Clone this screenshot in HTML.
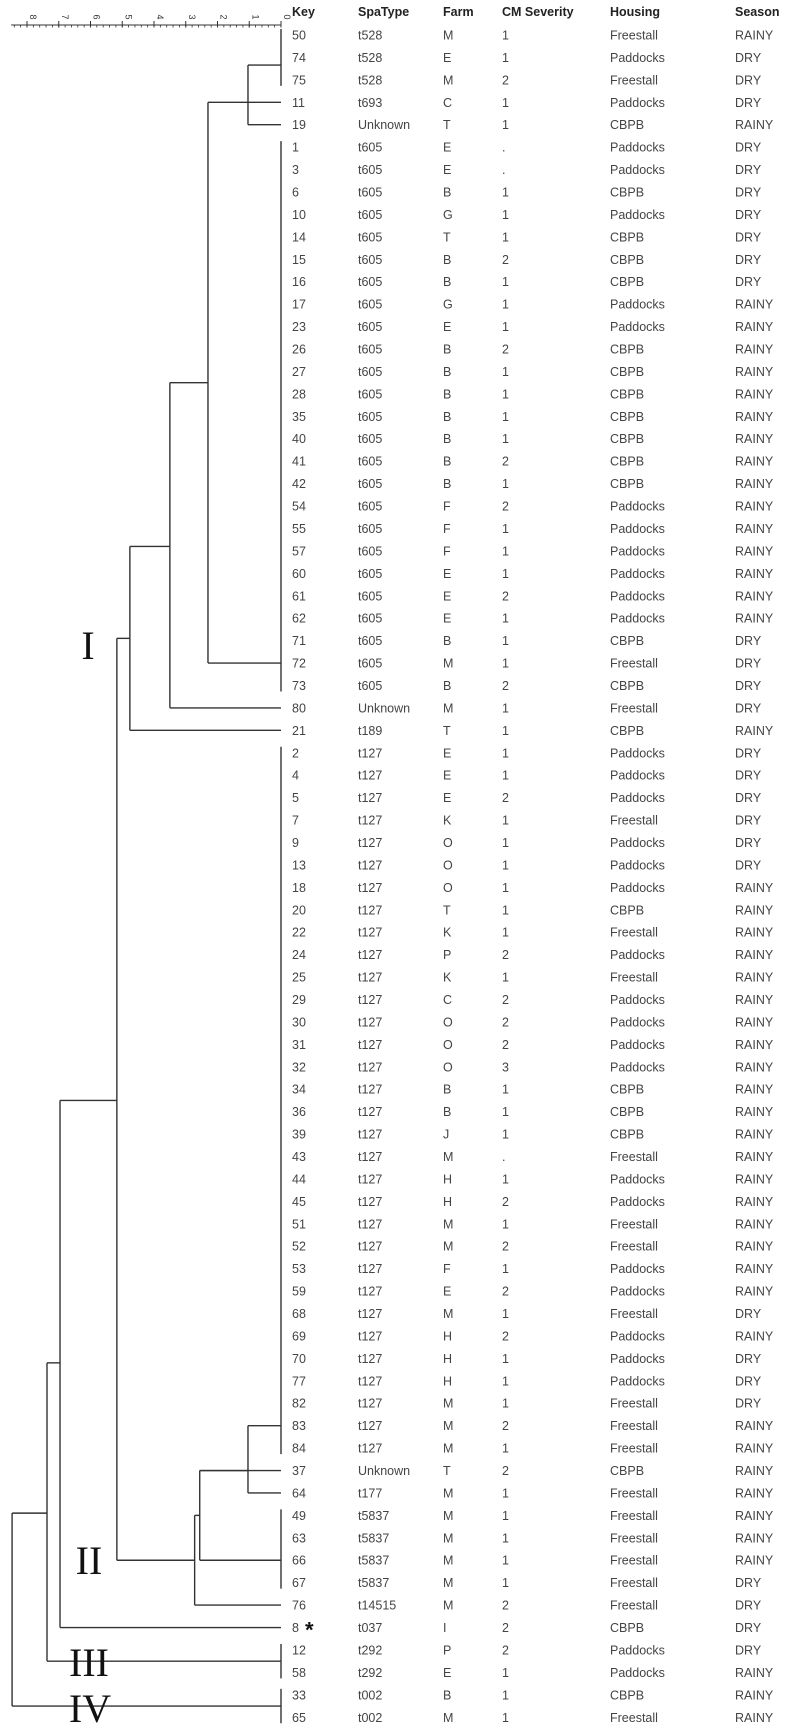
<!DOCTYPE html>
<html><head><meta charset="utf-8"><style>
html,body{margin:0;padding:0;background:#fff;}
svg{display:block;}
text{font-family:"Liberation Sans",sans-serif;}
#clusters text{font-family:"Liberation Serif",serif;}
</style></head><body>
<svg id="chart" width="790" height="1733" viewBox="0 0 790 1733" xmlns="http://www.w3.org/2000/svg">
<g id="axis"></g>
<g id="tree" stroke="#333" stroke-width="1.4" fill="none"></g>
<g id="table"></g>
<g id="clusters" font-size="40" fill="#111" text-anchor="middle">
<text x="88" y="659" style="font-family:'Liberation Serif',serif">I</text>
<text x="89" y="1574" style="font-family:'Liberation Serif',serif">II</text>
<text x="89" y="1676" style="font-family:'Liberation Serif',serif">III</text>
<text x="90" y="1722" style="font-family:'Liberation Serif',serif">IV</text>
</g>
</svg>
<script>
const keys=["50","74","75","11","19","1","3","6","10","14","15","16","17","23","26","27","28","35","40","41","42","54","55","57","60","61","62","71","72","73","80","21","2","4","5","7","9","13","18","20","22","24","25","29","30","31","32","34","36","39","43","44","45","51","52","53","59","68","69","70","77","82","83","84","37","64","49","63","66","67","76","8","12","58","33","65"];
const spaTypes=["t528","t528","t528","t693","Unknown","t605","t605","t605","t605","t605","t605","t605","t605","t605","t605","t605","t605","t605","t605","t605","t605","t605","t605","t605","t605","t605","t605","t605","t605","t605","Unknown","t189","t127","t127","t127","t127","t127","t127","t127","t127","t127","t127","t127","t127","t127","t127","t127","t127","t127","t127","t127","t127","t127","t127","t127","t127","t127","t127","t127","t127","t127","t127","t127","t127","Unknown","t177","t5837","t5837","t5837","t5837","t14515","t037","t292","t292","t002","t002"];
const farms=["M","E","M","C","T","E","E","B","G","T","B","B","G","E","B","B","B","B","B","B","B","F","F","F","E","E","E","B","M","B","M","T","E","E","E","K","O","O","O","T","K","P","K","C","O","O","O","B","B","J","M","H","H","M","M","F","E","M","H","H","H","M","M","M","T","M","M","M","M","M","M","I","P","E","B","M"];
const severity=["1","1","2","1","1",".",".","1","1","1","2","1","1","1","2","1","1","1","1","2","1","2","1","1","1","2","1","1","1","2","1","1","1","1","2","1","1","1","1","1","1","2","1","2","2","2","3","1","1","1",".","1","2","1","2","1","2","1","2","1","1","1","2","1","2","1","1","1","1","1","2","2","2","1","1","1"];
const housing=["Freestall","Paddocks","Freestall","Paddocks","CBPB","Paddocks","Paddocks","CBPB","Paddocks","CBPB","CBPB","CBPB","Paddocks","Paddocks","CBPB","CBPB","CBPB","CBPB","CBPB","CBPB","CBPB","Paddocks","Paddocks","Paddocks","Paddocks","Paddocks","Paddocks","CBPB","Freestall","CBPB","Freestall","CBPB","Paddocks","Paddocks","Paddocks","Freestall","Paddocks","Paddocks","Paddocks","CBPB","Freestall","Paddocks","Freestall","Paddocks","Paddocks","Paddocks","Paddocks","CBPB","CBPB","CBPB","Freestall","Paddocks","Paddocks","Freestall","Freestall","Paddocks","Paddocks","Freestall","Paddocks","Paddocks","Paddocks","Freestall","Freestall","Freestall","CBPB","Freestall","Freestall","Freestall","Freestall","Freestall","Freestall","CBPB","Paddocks","Paddocks","CBPB","Freestall"];
const seasons=["RAINY","DRY","DRY","DRY","RAINY","DRY","DRY","DRY","DRY","DRY","DRY","DRY","RAINY","RAINY","RAINY","RAINY","RAINY","RAINY","RAINY","RAINY","RAINY","RAINY","RAINY","RAINY","RAINY","RAINY","RAINY","DRY","DRY","DRY","DRY","RAINY","DRY","DRY","DRY","DRY","DRY","DRY","RAINY","RAINY","RAINY","RAINY","RAINY","RAINY","RAINY","RAINY","RAINY","RAINY","RAINY","RAINY","RAINY","RAINY","RAINY","RAINY","RAINY","RAINY","RAINY","DRY","RAINY","DRY","DRY","DRY","RAINY","RAINY","RAINY","RAINY","RAINY","RAINY","RAINY","DRY","DRY","DRY","DRY","RAINY","RAINY","RAINY"];
const headers=["Key","SpaType","Farm","CM Severity","Housing","Season"];
const axisTicks=[0,1,2,3,4,5,6,7,8];
const groupFirst=[0,3,4,5,30,31,32,64,65,66,70,71,72,74];
const groupLast=[2,3,4,29,30,31,63,64,65,69,70,71,73,75];
const groupAnchor=[1.34,3,4,28,30,31,62,64,65,68,70,71,72.5,74.5];
const mergeChildren=[["g0","g1","g2"],["m0","g3"],["m1","g4"],["m2","g5"],["g6","g8"],["m4","g7","g9"],["m5","g10"],["m3","m6"],["m7","g11"],["m8","g12"],["m9","g13"]];
const mergeHeights=[1.04,2.3,3.5,4.76,1.04,2.56,2.72,5.17,6.96,7.37,8.47];
const mergeAnchor=[3,15.5,22.8,26.9,64,66,68,47.5,59.2,65.9,70];

const NS="http://www.w3.org/2000/svg";
const X0=281, UNIT=31.75, Y0=35, ROWH=22.43;
const xScale=d=>X0-d*UNIT;
const yScale=r=>Y0+r*ROWH;
function mk(tag,attrs,parent){const e=document.createElementNS(NS,tag);for(const k in attrs)e.setAttribute(k,attrs[k]);parent.appendChild(e);return e;}

const ax=document.getElementById('axis');
const axl=mk('line',{x1:xScale(8.5),y1:25,x2:xScale(0),y2:25,stroke:'#333','stroke-width':1},ax);


for(let i=0;i<=42;i++){const v=i*0.2;const x=xScale(v);
 const t=mk('line',{x1:x,y1:25,x2:x,y2:27.5,stroke:'#333','stroke-width':0.8},ax);
 
 }
axisTicks.forEach(v=>{const x=xScale(v);
 const t=mk('line',{x1:x,y1:21,x2:x,y2:27.5,stroke:'#333','stroke-width':1},ax);
 
 
 const l=mk('text',{x:0,y:0,'font-size':9,fill:'#333','text-anchor':'middle',transform:`translate(${x+3},17) rotate(90)`},ax);
 l.textContent=String(v);
 
 });

const tr=document.getElementById('tree');
function info(id){const i=+id.slice(1);if(id[0]==='g')return{x:xScale(0),a:groupAnchor[i]};return{x:xScale(mergeHeights[i]),a:mergeAnchor[i]};}
groupFirst.forEach((f,i)=>{const l=groupLast[i];if(l>f){
 const ln=mk('line',{x1:X0,y1:yScale(f)-6,x2:X0,y2:yScale(l)+6},tr);
 
 }});
mergeChildren.forEach((ch,i)=>{const x=xScale(mergeHeights[i]);
 const as=ch.map(c=>info(c).a);
 const v=mk('line',{x1:x,y1:yScale(Math.min(...as)),x2:x,y2:yScale(Math.max(...as))},tr);
 
 
 ch.forEach(c=>{const inf=info(c);
  const h=mk('line',{x1:x,y1:yScale(inf.a),x2:inf.x,y2:yScale(inf.a)},tr);
  
  });});

const tb=document.getElementById('table');
const colX=[292,358,443,502,610,735];
headers.forEach((h,i)=>{const t=mk('text',{x:colX[i],y:16,'font-size':12.5,'font-weight':'bold',fill:'#222'},tb);
 t.textContent=h;
 
 });
const cols=[keys,spaTypes,farms,severity,housing,seasons];
keys.forEach((k,r)=>{cols.forEach((arr,c)=>{
 const t=mk('text',{x:colX[c],y:yScale(r)+4.5,'font-size':12.5,fill:'#444'},tb);
 t.textContent=arr[r];
 
 });});
const star=mk('text',{x:305,y:yScale(71)+10,'font-size':22,'font-weight':'bold',fill:'#111'},tb);
star.textContent='*';


</script>
</body></html>
